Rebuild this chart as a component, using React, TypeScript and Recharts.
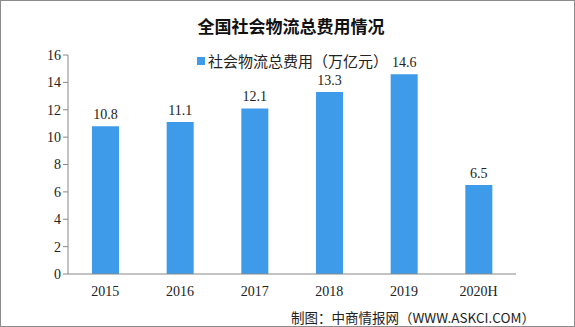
import { BarChart, Bar, XAxis, YAxis, LabelList } from 'recharts'

const years = ['2015', '2016', '2017', '2018', '2019', '2020H']
const costs = [10.8, 11.1, 12.1, 13.3, 14.6, 6.5]
const yTicks = [0, 2, 4, 6, 8, 10, 12, 14, 16]
const sepTicks = [0, 1, 2, 3, 4, 5, 6]
const seriesName = '社会物流总费用（万亿元）'

const data = years.map((y, i) => ({ year: y, cost: costs[i] }))

const SERIF = '"Liberation Serif", "Noto Sans CJK SC", serif'
const CJK = '"Noto Sans CJK SC", sans-serif'
const BLUE = '#3d9be9'

export default function App() {
  return (
    <div style={{
      position: 'absolute', left: 0, top: 0, width: 575, height: 327,
      boxSizing: 'border-box', border: '1px solid #8c8c8c', background: '#fff'
    }}>
      <div style={{
        position: 'absolute', top: 12, left: 0, width: 580, textAlign: 'center',
        fontFamily: CJK, fontWeight: 700, fontSize: 17, lineHeight: '26px', color: '#111'
      }}>
        全国社会物流总费用情况
      </div>
      <div style={{
        position: 'absolute', top: 49, left: 196, display: 'flex', alignItems: 'center',
        fontFamily: CJK, fontSize: 15, lineHeight: '22px', color: '#222', whiteSpace: 'nowrap'
      }}>
        <span style={{ display: 'inline-block', width: 8, height: 8, background: BLUE, marginRight: 3 }} />
        {seriesName}
      </div>
      <BarChart
        width={573} height={325} data={data}
        margin={{ top: 54, right: 58, left: 0, bottom: 22 }}
        style={{ position: 'absolute', left: 0, top: 0 }}
      >
        <XAxis
          xAxisId="sep" type="number" domain={[0, 6]} ticks={sepTicks}
          height={0} axisLine={false} tickSize={4} stroke="#888"
          tickFormatter={() => ''}
        />
        <XAxis
          dataKey="year" height={30} stroke="#888" tickLine={false} tickMargin={6}
          tick={{ fontFamily: SERIF, fontSize: 14, fill: '#222' }}
        />
        <YAxis
          width={67} domain={[0, 16]} ticks={yTicks} stroke="#888" tickSize={5}
          tick={{ fontFamily: SERIF, fontSize: 14, fill: '#222' }}
        />
        <Bar
          dataKey="cost" name={seriesName} fill={BLUE}
          barSize={27} isAnimationActive={false}
        >
          <LabelList dataKey="cost" position="top" offset={7}
            style={{ fontFamily: SERIF, fontSize: 14, fill: '#222' }} />
        </Bar>
      </BarChart>
      <div style={{
        position: 'absolute', top: 308, left: 290, fontFamily: CJK, fontSize: 13.5, lineHeight: '16px',
        color: '#222', whiteSpace: 'nowrap'
      }}>
        制图：中商情报网（WWW.ASKCI.COM）
      </div>
    </div>
  )
}
